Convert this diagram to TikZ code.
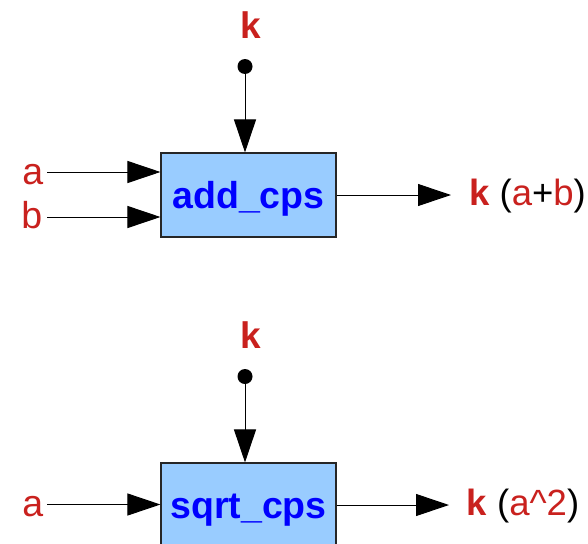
\documentclass[tikz,border=0pt]{standalone}
\usepackage{fontspec}
\setmainfont{Liberation Sans}
\usetikzlibrary{arrows.meta}
\definecolor{lblred}{HTML}{C9211E}
\definecolor{boxfill}{HTML}{99CCFF}
\definecolor{boxtext}{HTML}{0000FF}
\tikzset{
  func/.style={draw=black!85, line width=1.1pt, fill=boxfill, rectangle,
    minimum width=175pt, minimum height=84pt, inner sep=0pt},
  functext/.style={text=boxtext, font=\fontsize{37.5}{44}\selectfont\bfseries, inner sep=0pt, anchor=base},
  inlabel/.style={text=lblred, font=\fontsize{37.5}{44}\selectfont, inner sep=0pt, anchor=base east},
  contlabel/.style={text=lblred, font=\fontsize{37}{44}\selectfont\bfseries, inner sep=0pt, anchor=base},
  outlabel/.style={font=\fontsize{36.5}{44}\selectfont, inner sep=0pt, anchor=base west},
  wire/.style={line width=1pt, -{Triangle[length=33pt, width=22pt]}},
  contdot/.style={circle, fill=black, inner sep=0pt, minimum size=15pt},
}
\newcommand{\rd}[1]{\textcolor{lblred}{#1}}
\begin{document}
\begin{tikzpicture}[x=1pt, y=-1pt]
  \useasboundingbox (0,0) rectangle (588,543);
  \clip (0,0) rectangle (588,543);

  % ---- add_cps ----
  \node[func] (add) at (248.5,195) {};
  \node[functext] (addname) at (248.5,208) {add\_cps};
  \node[inlabel] (addA) at (43.5,184) {a};
  \node[inlabel] (addB) at (42.5,228) {b};
  \coordinate (addAin) at (47,172);
  \coordinate (addBin) at (47,217);
  \draw[wire] (addAin) -- (addAin -| add.west);
  \draw[wire] (addBin) -- (addBin -| add.west);
  \node[contlabel] (addK) at (251,38) {k};
  \node[contdot] (addDot) at (245,66.5) {};
  \draw[wire] (addDot.center) -- (addDot.center |- add.north);
  \coordinate (addOut) at (451,195);
  \draw[wire] (add.east) -- (addOut);
  \node[outlabel] (addRes) at (469,205) {\rd{\bfseries k} (\rd{a}+\rd{b})};

  % ---- sqrt_cps ----
  \node[func] (sq) at (248.5,505) {};
  \node[functext] (sqname) at (248.5,518) {sqrt\_cps};
  \node[inlabel] (sqA) at (43.5,516) {a};
  \coordinate (sqAin) at (47,504.5);
  \draw[wire] (sqAin) -- (sqAin -| sq.west);
  \node[contlabel] (sqK) at (251,348) {k};
  \node[contdot] (sqDot) at (245,376.5) {};
  \draw[wire] (sqDot.center) -- (sqDot.center |- sq.north);
  \coordinate (sqOut) at (449,505);
  \draw[wire] (sq.east) -- (sqOut);
  \node[outlabel] (sqRes) at (466.5,515) {\rd{\bfseries k} (\rd{a\textasciicircum 2})};
\end{tikzpicture}
\end{document}
